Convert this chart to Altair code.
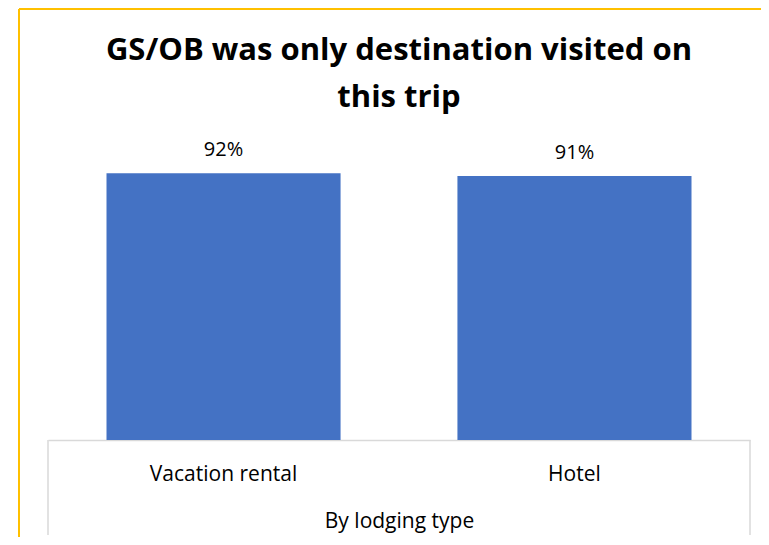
import altair as alt
import pandas as pd

categories = ["Vacation rental", "Hotel"]
values = [92, 91]
labels = ["92%", "91%"]
title_lines = ["GS/OB was only destination visited on", "this trip"]
x_title = "By lodging type"

df = pd.DataFrame({"lodging": categories, "pct": values, "label": labels})

W, H = 702, 290
FONT = "Open Sans"

xscale = alt.Scale(domain=categories, paddingInner=0.333, paddingOuter=0.1667)
yscale = alt.Scale(domain=[0, 100])

xaxis = alt.Axis(title=x_title, labelAngle=0, ticks=False,
                 domainColor="#d9d9d9", domainWidth=1.5,
                 labelFont=FONT, labelFontSize=21, labelColor="#000000",
                 labelBaseline="alphabetic", labelPadding=40,
                 titleFont=FONT, titleFontSize=21, titleFontWeight="normal",
                 titleColor="#000000", titleX=351, titleY=87,
                 titleBaseline="alphabetic", titleAlign="center",
                 grid=False)

base = alt.Chart(df)

bars = base.mark_bar(color="#4472C4").encode(
    x=alt.X("lodging:N", scale=xscale, sort=categories, axis=xaxis),
    y=alt.Y("pct:Q", scale=yscale, axis=None),
)

text = base.mark_text(dy=-17, baseline="alphabetic", font=FONT, fontSize=20,
                      color="#000000").encode(
    x=alt.X("lodging:N", scale=xscale, sort=categories, axis=xaxis),
    y=alt.Y("pct:Q", scale=yscale, axis=None),
    text="label:N",
)

one = pd.DataFrame({"a": [0]})

title_marks = [
    alt.Chart(one).mark_text(text=line, font=FONT, fontSize=31, fontWeight="bold",
                             color="#000000", align="center",
                             baseline="alphabetic").encode(
        x=alt.value(W / 2), y=alt.value(yy))
    for line, yy in zip(title_lines, [-90, -43])
]

grey = "#d9d9d9"
left_box = alt.Chart(one).mark_rule(color=grey, strokeWidth=1.5).encode(
    x=alt.value(0), y=alt.value(H), y2=alt.value(385))
right_box = alt.Chart(one).mark_rule(color=grey, strokeWidth=1.5).encode(
    x=alt.value(W), y=alt.value(H), y2=alt.value(385))

gold = "#FFC000"
border_left = alt.Chart(one).mark_rule(color=gold, strokeWidth=2).encode(
    x=alt.value(-29), y=alt.value(-141), y2=alt.value(400))
border_top = alt.Chart(one).mark_rule(color=gold, strokeWidth=2).encode(
    x=alt.value(-29), x2=alt.value(730), y=alt.value(-141))

chart = alt.layer(bars, text, *title_marks, left_box, right_box,
                  border_left, border_top).properties(
    width=W, height=H,
    autosize=alt.AutoSizeParams(type="none"),
    padding={"left": 40, "top": 142, "right": 11, "bottom": 97},
).configure_view(stroke=None)

chart.save("out.html", embed_options={"renderer": "svg", "actions": False})
